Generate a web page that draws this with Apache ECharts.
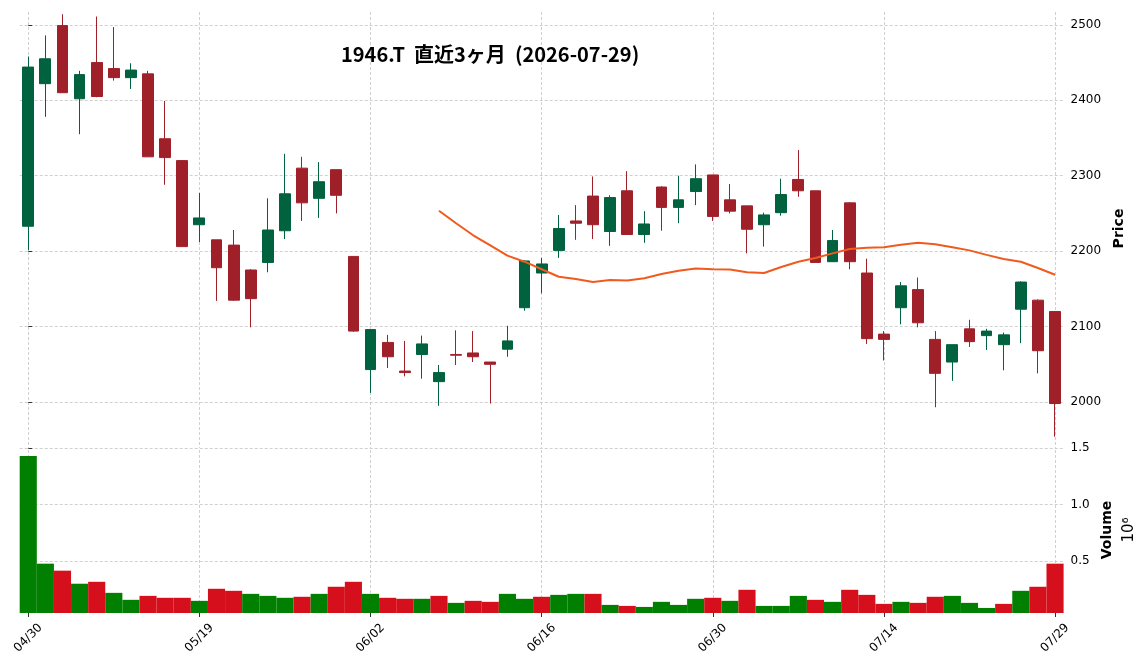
<!DOCTYPE html>
<html>
<head>
<meta charset="utf-8">
<script src="https://cdn.jsdelivr.net/npm/echarts@6/dist/echarts.min.js"></script>
<style>
html,body{margin:0;padding:0;background:#fff;}
#chart{width:1148px;height:670px;}
</style>
</head>
<body>
<div id="chart"></div>
<script>
const dates = ['04/30','05/01','05/07','05/08','05/11','05/12','05/13','05/14','05/15','05/18',
  '05/19','05/20','05/21','05/22','05/25','05/26','05/27','05/28','05/29','06/01',
  '06/02','06/03','06/04','06/05','06/08','06/09','06/10','06/11','06/12','06/15',
  '06/16','06/17','06/18','06/19','06/22','06/23','06/24','06/25','06/26','06/29',
  '06/30','07/01','07/02','07/03','07/06','07/07','07/08','07/09','07/10','07/13',
  '07/14','07/15','07/16','07/17','07/21','07/22','07/23','07/24','07/27','07/28','07/29'];
const opens  = [2233,2422,2499,2402,2450,2442,2430,2435,2349,2320,2235,2215,2208,2175,2185,2227,2310,2270,2308,2193,
  2043,2079,2041,2063,2027,2063,2065,2053,2070,2125,2171,2201,2240,2273,2226,2280,2222,2285,2258,2279,
  2301,2268,2260,2235,2251,2295,2280,2186,2264,2171,2090,2125,2149,2083,2053,2097,2088,2076,2123,2135,2120];
const closes = [2444,2455,2410,2434,2405,2430,2440,2325,2324,2206,2244,2178,2135,2137,2228,2276,2264,2292,2274,2094,
  2096,2060,2039,2077,2039,2062,2060,2050,2081,2187,2183,2230,2237,2235,2271,2222,2236,2258,2268,2296,
  2246,2253,2229,2248,2275,2280,2185,2214,2186,2084,2083,2154,2105,2038,2076,2080,2094,2089,2159,2068,1998];
const lows   = [2201,2378,2410,2355,2404,2426,2415,2325,2288,2206,2212,2134,2134,2099,2172,2216,2240,2244,2250,2093,
  2012,2045,2034,2031,1995,2049,2053,1998,2060,2121,2144,2191,2215,2216,2207,2222,2211,2227,2237,2261,
  2240,2250,2197,2206,2247,2272,2185,2186,2176,2077,2055,2103,2099,1993,2028,2073,2069,2042,2078,2038,1954];
const highs  = [2458,2486,2514,2439,2511,2497,2449,2439,2399,2320,2277,2215,2228,2176,2270,2329,2325,2318,2308,2193,
  2096,2089,2081,2088,2049,2095,2094,2053,2101,2188,2191,2248,2261,2299,2274,2306,2253,2286,2300,2315,
  2301,2289,2260,2251,2296,2334,2280,2228,2265,2190,2094,2159,2165,2094,2076,2109,2097,2092,2160,2136,2120];
const volumes = [1432000,476000,414000,298000,315000,217000,155000,190000,173000,173000,146000,253000,235000,208000,190000,173000,182000,208000,271000,315000,
  208000,173000,164000,164000,190000,128000,146000,137000,208000,164000,182000,199000,208000,208000,110000,101000,92000,137000,110000,164000,
  173000,146000,244000,101000,101000,190000,155000,137000,244000,199000,119000,137000,128000,182000,190000,128000,83000,119000,235000,271000,476000];
// 25-day moving average (starts at index 24)
const maStartIndex = 24;
const ma25 = [2253.5,2237,2221,2207.5,2194,2186,2176,2166,2163,2159,2161.6,2161,2164,2169.6,2174,2177,2176,2175.5,2172,2171,
  2179,2186,2191,2197,2202.7,2204.5,2205,2208.4,2211,2209,2205,2201,2195,2189.5,2186,2177.6,2168.7];
const labelIdx = [0,10,20,30,40,50,60];
const priceTicks = [2000,2100,2200,2300,2400,2500];
const volumeTicks = [500000,1000000,1500000];
const titleText = '1946.T  直近3ヶ月  (2026-07-29)';

const UP = '#00623F', DOWN = '#A0202A';
const VUP = '#007F00', VDOWN = '#D60F1C';
const GRID = '#c4c4c4';

const candleData = dates.map((d,i)=>[opens[i], closes[i], lows[i], highs[i]]);
const volData = volumes.map((v,i)=>({
  value: v,
  itemStyle: {color: (i===0 || closes[i] >= closes[i-1]) ? VUP : VDOWN}
}));
const maData = dates.map((d,i)=> i < maStartIndex ? null : ma25[i-maStartIndex]);
const dashStyle = {color:GRID, type:[3,2], width:0.8};

const L = 19.7, R = 1148 - 1063.6;
const chart = echarts.init(document.getElementById('chart'), null, {renderer:'canvas'});
const splitDash = {show:true, lineStyle:dashStyle};
chart.setOption({
  animation:false,
  backgroundColor:'#fff',
  title:{text:titleText, left:336, top:39,
    textStyle:{fontFamily:'Noto Sans CJK JP', fontWeight:'bold', fontSize:20, color:'#000'}},
  grid:[
    {left:L, right:R, top:12, height:433},
    {left:L, right:R, top:447, height:166}
  ],
  xAxis:[
    {type:'category', gridIndex:0, position:'bottom', data:dates, boundaryGap:true, show:false},
    {type:'category', gridIndex:1, position:'bottom', data:dates, boundaryGap:true, show:false},
    {type:'value', gridIndex:0, position:'bottom', min:-0.5, max:60.5,
      axisLine:{show:false}, axisTick:{show:false, customValues:labelIdx},
      axisLabel:{show:false, customValues:labelIdx}, splitLine:splitDash},
    {type:'value', gridIndex:1, position:'bottom', min:-0.5, max:60.5,
      axisLine:{show:false},
      axisTick:{show:true, customValues:labelIdx, length:4, lineStyle:{color:'#333'}},
      axisLabel:{show:true, customValues:labelIdx, rotate:45, margin:25, align:'center', verticalAlign:'middle',
        fontFamily:'DejaVu Sans', fontSize:12, color:'#000',
        formatter:(v)=>dates[Math.round(v)]},
      splitLine:{show:false}}
  ],
  yAxis:[
    {type:'value', gridIndex:0, position:'right', min:1943, max:2517,
      axisLine:{show:false},
      axisTick:{show:true, customValues:priceTicks, length:4, lineStyle:{color:'#333'}},
      axisLabel:{customValues:priceTicks, margin:7, fontFamily:'DejaVu Sans', fontSize:12, color:'#000',
        formatter:(v)=>String(Math.round(v))},
      splitLine:splitDash,
      name:'Price', nameLocation:'middle', nameRotate:90, nameGap:45,
      nameTextStyle:{fontFamily:'DejaVu Sans', fontWeight:'bold', fontSize:14, color:'#000'}},
    {type:'value', gridIndex:1, position:'right', min:38000, max:1512000,
      axisLine:{show:false},
      axisTick:{show:true, customValues:volumeTicks, length:4, lineStyle:{color:'#333'}},
      axisLabel:{customValues:volumeTicks, margin:7, fontFamily:'DejaVu Sans', fontSize:12, color:'#000',
        formatter:(v)=>(v/1e6).toFixed(1)},
      splitLine:splitDash,
      name:'{a|Volume}\n{b|10⁶}', nameLocation:'middle', nameRotate:90, nameGap:32,
      nameTextStyle:{rich:{
        a:{fontFamily:'DejaVu Sans', fontWeight:'bold', fontSize:14, color:'#000', lineHeight:22},
        b:{fontFamily:'DejaVu Sans', fontSize:15, color:'#000', lineHeight:22}
      }}}
  ],
  series:[
    {type:'candlestick', xAxisIndex:0, yAxisIndex:0, data:candleData, barWidth:'66%',
      itemStyle:{color:UP, color0:DOWN, borderColor:UP, borderColor0:DOWN, borderWidth:1}},
    {type:'line', xAxisIndex:0, yAxisIndex:0, data:maData, showSymbol:false, symbol:'none',
      lineStyle:{color:'#F15A1E', width:2}, connectNulls:false},
    {type:'bar', xAxisIndex:1, yAxisIndex:1, data:volData, barWidth:'100%', barCategoryGap:'0%', z:3,
      markLine:{silent:true, symbol:'none', z:1, label:{show:false}, lineStyle:dashStyle,
        emphasis:{disabled:true},
        data:labelIdx.map(i=>({xAxis:dates[i]}))}}
  ]
});
</script>
</body>
</html>
